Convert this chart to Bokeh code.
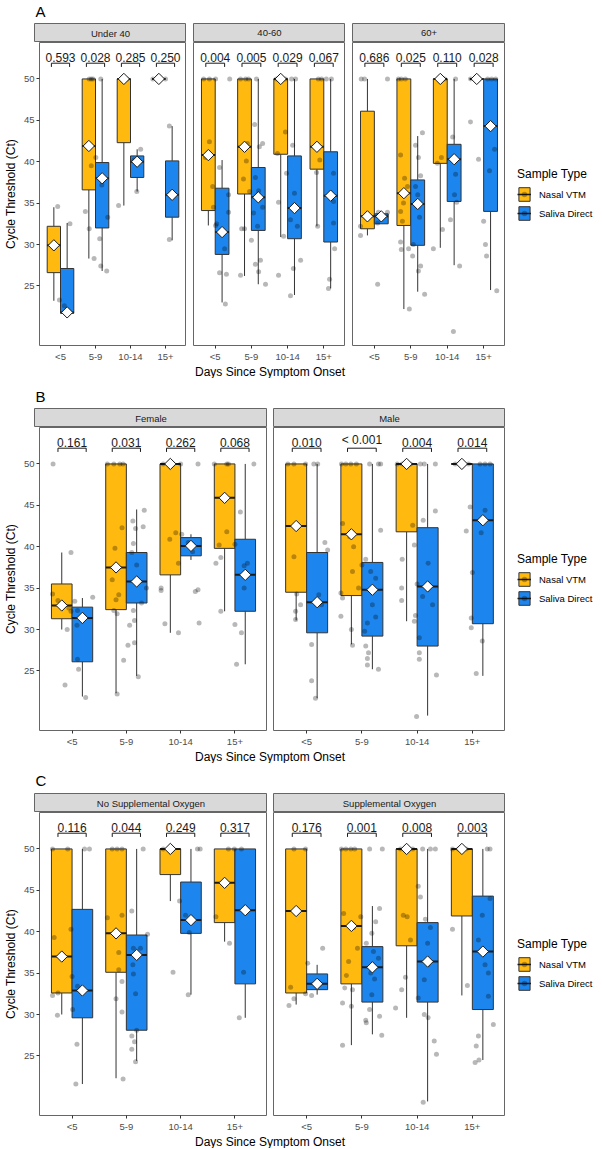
import math
from bokeh.plotting import figure
from bokeh.models import Range1d, FixedTicker, ColumnDataSource, Label, Legend, LegendItem
from bokeh.layouts import column, row
from bokeh.embed import file_html
from bokeh.resources import INLINE
from bokeh.core.properties import value

# ---------------- data ----------------
DAYS = ["<5", "5-9", "10-14", "15+"]
TYPES = ["Nasal VTM", "Saliva Direct"]
Y_TICKS = [25, 30, 35, 40, 45, 50]

A_FACETS = ["Under 40", "40-60", "60+"]
B_FACETS = ["Female", "Male"]
C_FACETS = ["No Supplemental Oxygen", "Supplemental Oxygen"]

A_PVALS = [["0.593", "0.028", "0.285", "0.250"],
           ["0.004", "0.005", "0.029", "0.067"],
           ["0.686", "0.025", "0.110", "0.028"]]
B_PVALS = [["0.161", "0.031", "0.262", "0.068"],
           ["0.010", "< 0.001", "0.004", "0.014"]]
C_PVALS = [["0.116", "0.044", "0.249", "0.317"],
           ["0.176", "0.001", "0.008", "0.003"]]

# (facet, day, type, lower whisker, q1, median, q3, upper whisker, mean)
A_BOXES = [
    (0, 0, "N", 23.2, 26.6, 29.9, 32.2, 34.5, 29.9), (0, 0, "S", 21.7, 21.7, 21.8, 27.1, 32.6, 21.8),
    (0, 1, "N", 28.3, 36.6, 41.9, 50, 50, 41.9), (0, 1, "S", 26.8, 32.0, 38.0, 39.9, 50, 38.0),
    (0, 2, "N", 34.7, 42.3, 50, 50, 50, 50), (0, 2, "S", 36.4, 38.1, 40.0, 40.7, 41.5, 40.0),
    (0, 3, "N", 50, 50, 50, 50, 50, 50), (0, 3, "S", 30.5, 33.3, 36.0, 40.1, 44.3, 36.0),
    (1, 0, "N", 32.3, 34.1, 40.8, 50, 50, 40.8), (1, 0, "S", 23.0, 28.8, 31.5, 36.8, 40.2, 31.5),
    (1, 1, "N", 26.2, 36.1, 41.8, 50, 50, 41.8), (1, 1, "S", 25.2, 31.7, 35.7, 39.3, 50, 35.7),
    (1, 2, "N", 30.9, 40.9, 50, 50, 50, 50), (1, 2, "S", 23.9, 30.7, 34.4, 40.7, 50, 34.4),
    (1, 3, "N", 32.2, 39.1, 41.8, 50, 50, 41.8), (1, 3, "S", 24.7, 30.3, 35.9, 41.2, 50, 35.9),
    (2, 0, "N", 31.1, 31.9, 33.4, 46.1, 50, 33.4), (2, 0, "S", 32.5, 32.5, 33.4, 33.7, 33.9, 33.4),
    (2, 1, "N", 22.2, 32.3, 36.2, 50, 50, 36.2), (2, 1, "S", 24.3, 29.9, 34.9, 37.8, 43.1, 34.9),
    (2, 2, "N", 29.6, 39.8, 50, 50, 50, 50), (2, 2, "S", 27.5, 35.2, 40.3, 42.1, 50, 40.3),
    (2, 3, "N", 50, 50, 50, 50, 50, 50), (2, 3, "S", 24.5, 34.0, 44.3, 50, 50, 44.3),
]
B_BOXES = [
    (0, 0, "N", 30.0, 31.3, 32.9, 35.5, 39.3, 32.9), (0, 0, "S", 21.9, 26.1, 31.4, 32.7, 33.8, 31.4),
    (0, 1, "N", 22.3, 32.4, 37.5, 50, 50, 37.5), (0, 1, "S", 24.4, 33.2, 35.8, 39.3, 44.5, 35.8),
    (0, 2, "N", 29.6, 36.6, 50, 50, 50, 50), (0, 2, "S", 38.4, 38.9, 40.1, 41.1, 41.5, 40.1),
    (0, 3, "N", 32.2, 39.8, 45.9, 50, 50, 45.9), (0, 3, "S", 25.8, 32.2, 36.6, 40.9, 50, 36.6),
    (1, 0, "N", 31.1, 34.5, 42.5, 50, 50, 42.5), (1, 0, "S", 21.7, 29.6, 33.3, 39.3, 50, 33.3),
    (1, 1, "N", 28.2, 34.1, 41.5, 50, 50, 41.5), (1, 1, "S", 25.2, 29.2, 34.8, 38.1, 50, 34.8),
    (1, 2, "N", 31.0, 41.8, 50, 50, 50, 50), (1, 2, "S", 19.6, 28.0, 35.2, 42.3, 50, 35.2),
    (1, 3, "N", 50, 50, 50, 50, 50, 50), (1, 3, "S", 24.4, 30.7, 43.2, 50, 50, 43.2),
]
C_BOXES = [
    (0, 0, "N", 30.0, 32.6, 37.0, 50, 50, 37.0), (0, 0, "S", 21.6, 29.6, 32.9, 42.7, 50, 32.9),
    (0, 1, "N", 22.3, 35.1, 39.8, 50, 50, 39.8), (0, 1, "S", 24.4, 28.1, 37.2, 39.6, 50, 37.2),
    (0, 2, "N", 43.7, 46.9, 50, 50, 50, 50), (0, 2, "S", 32.4, 39.8, 41.4, 46.0, 50, 41.4),
    (0, 3, "N", 38.8, 41.1, 45.9, 50, 50, 45.9), (0, 3, "S", 29.6, 33.7, 42.6, 50, 50, 42.6),
    (1, 0, "N", 31.2, 32.6, 42.5, 50, 50, 42.5), (1, 0, "S", 32.4, 33.0, 33.7, 34.9, 36.0, 33.7),
    (1, 1, "N", 26.3, 33.7, 40.7, 50, 50, 40.7), (1, 1, "S", 27.6, 31.5, 35.7, 38.2, 43.1, 35.7),
    (1, 2, "N", 29.6, 38.3, 50, 50, 50, 50), (1, 2, "S", 19.5, 31.5, 36.4, 41.1, 50, 36.4),
    (1, 3, "N", 32.3, 41.9, 50, 50, 50, 50), (1, 3, "S", 24.5, 30.6, 37.6, 44.3, 50, 37.6),
]

# individual samples: (facet, day, type, Ct, jitter offset from the day's centre)
A_POINTS = [
    (0, 0, "N", 34.6, -0.08), (0, 0, "N", 23.3, -0.03),
    (0, 0, "S", 32.5, 0.27), (0, 0, "S", 21.8, 0.19), (0, 0, "S", 22.6, 0.11),
    (0, 1, "N", 50, -0.18), (0, 1, "N", 50, -0.12), (0, 1, "N", 50, -0.07), (0, 1, "N", 39.5, -0.12),
    (0, 1, "N", 34.0, -0.29), (0, 1, "N", 31.9, -0.18), (0, 1, "N", 28.3, -0.04),
    (0, 1, "S", 50, 0.15), (0, 1, "S", 40.5, 0.01), (0, 1, "S", 37.2, 0.18), (0, 1, "S", 33.3, 0.35),
    (0, 1, "S", 30.7, 0.12), (0, 1, "S", 27.4, 0.15), (0, 1, "S", 26.8, 0.32),
    (0, 2, "N", 50, -0.18), (0, 2, "N", 50, -0.10), (0, 2, "N", 34.7, -0.34),
    (0, 2, "S", 41.5, 0.29), (0, 2, "S", 36.4, 0.18), (0, 2, "S", 40.2, 0.10),
    (0, 3, "N", 50, -0.36), (0, 3, "N", 50, 0.0),
    (0, 3, "S", 44.3, 0.11), (0, 3, "S", 30.6, 0.11),
    (1, 0, "N", 50, -0.32), (1, 0, "N", 50, -0.16), (1, 0, "N", 50, 0.01), (1, 0, "N", 42.4, -0.16),
    (1, 0, "N", 40.5, -0.27), (1, 0, "N", 37.0, -0.07), (1, 0, "N", 34.5, -0.05), (1, 0, "N", 32.3, 0.01),
    (1, 0, "S", 50, 0.40), (1, 0, "S", 39.3, 0.12), (1, 0, "S", 36.0, 0.37), (1, 0, "S", 33.9, 0.37),
    (1, 0, "S", 32.5, 0.04), (1, 0, "S", 29.5, 0.26), (1, 0, "S", 26.6, 0.12), (1, 0, "S", 26.4, 0.31),
    (1, 0, "S", 22.8, 0.28),
    (1, 1, "N", 50, -0.30), (1, 1, "N", 50, -0.16), (1, 1, "N", 50, -0.08), (1, 1, "N", 42.2, -0.11),
    (1, 1, "N", 40.1, -0.14), (1, 1, "N", 37.9, -0.22), (1, 1, "N", 36.4, -0.05), (1, 1, "N", 31.9, -0.27),
    (1, 1, "N", 31.9, -0.19), (1, 1, "N", 30.5, 0.0), (1, 1, "N", 26.3, -0.30),
    (1, 1, "S", 50, 0.14), (1, 1, "S", 44.5, 0.09), (1, 1, "S", 42.2, 0.31), (1, 1, "S", 41.8, 0.22),
    (1, 1, "S", 38.1, 0.11), (1, 1, "S", 36.5, 0.20), (1, 1, "S", 34.5, 0.31), (1, 1, "S", 33.8, 0.06),
    (1, 1, "S", 32.2, 0.17), (1, 1, "S", 28.1, 0.25), (1, 1, "S", 27.6, 0.11), (1, 1, "S", 26.7, 0.20),
    (1, 1, "S", 25.2, 0.39),
    (1, 2, "N", 50, -0.31), (1, 2, "N", 50, -0.20), (1, 2, "N", 50, -0.06), (1, 2, "N", 43.6, -0.06),
    (1, 2, "N", 41.0, -0.28), (1, 2, "N", 35.1, -0.25), (1, 2, "N", 31.0, -0.11), (1, 2, "N", 26.3, -0.25),
    (1, 2, "S", 50, 0.11), (1, 2, "S", 50, 0.22), (1, 2, "S", 42.0, 0.14), (1, 2, "S", 38.6, -0.03),
    (1, 2, "S", 36.2, 0.19), (1, 2, "S", 33.0, 0.08), (1, 2, "S", 32.2, 0.27), (1, 2, "S", 28.1, 0.36),
    (1, 2, "S", 27.1, 0.16), (1, 2, "S", 23.8, 0.08),
    (1, 3, "N", 50, -0.15), (1, 3, "N", 50, -0.06), (1, 3, "N", 38.7, -0.20), (1, 3, "N", 40.2, -0.11),
    (1, 3, "N", 32.2, -0.17),
    (1, 3, "S", 50, 0.21), (1, 3, "S", 50, 0.07), (1, 3, "S", 38.6, 0.27), (1, 3, "S", 36.0, 0.16),
    (1, 3, "S", 35.2, 0.27), (1, 3, "S", 32.6, 0.27), (1, 3, "S", 29.5, 0.30), (1, 3, "S", 25.8, 0.16),
    (1, 3, "S", 24.7, 0.13),
    (2, 0, "N", 50, -0.36), (2, 0, "N", 50, -0.27), (2, 0, "N", 32.2, -0.38), (2, 0, "N", 31.1, -0.38),
    (2, 0, "S", 50, 0.36), (2, 0, "S", 33.9, 0.11), (2, 0, "S", 33.9, 0.36), (2, 0, "S", 32.6, 0.09),
    (2, 0, "S", 25.2, 0.09),
    (2, 1, "N", 50, -0.34), (2, 1, "N", 50, -0.26), (2, 1, "N", 50, -0.15), (2, 1, "N", 40.8, -0.28),
    (2, 1, "N", 38.0, -0.17), (2, 1, "N", 37.0, -0.09), (2, 1, "N", 35.0, -0.20), (2, 1, "N", 34.0, -0.28),
    (2, 1, "N", 32.8, -0.23), (2, 1, "N", 30.3, -0.28), (2, 1, "N", 29.4, -0.26), (2, 1, "N", 22.2, -0.04),
    (2, 1, "S", 43.5, 0.32), (2, 1, "S", 42.0, 0.13), (2, 1, "S", 40.5, 0.21), (2, 1, "S", 38.3, 0.27),
    (2, 1, "S", 37.0, 0.13), (2, 1, "S", 36.0, 0.19), (2, 1, "S", 33.3, 0.24), (2, 1, "S", 30.0, 0.07),
    (2, 1, "S", 29.5, -0.06), (2, 1, "S", 28.6, 0.05), (2, 1, "S", 27.4, 0.27), (2, 1, "S", 26.8, 0.21),
    (2, 1, "S", 24.0, 0.38),
    (2, 2, "N", 50, -0.19), (2, 2, "N", 50, -0.07), (2, 2, "N", 40.5, -0.16), (2, 2, "N", 39.8, -0.27),
    (2, 2, "N", 31.8, -0.13), (2, 2, "N", 29.5, -0.38),
    (2, 2, "S", 50, 0.23), (2, 2, "S", 43.0, 0.15), (2, 2, "S", 40.2, 0.15), (2, 2, "S", 38.5, 0.23),
    (2, 2, "S", 36.0, 0.20), (2, 2, "S", 35.1, 0.26), (2, 2, "S", 33.0, 0.09), (2, 2, "S", 27.4, 0.34),
    (2, 2, "S", 19.5, 0.17),
    (2, 3, "N", 50, -0.36), (2, 3, "N", 50, -0.25), (2, 3, "N", 44.8, -0.36), (2, 3, "N", 40.3, -0.14),
    (2, 3, "S", 50, 0.11), (2, 3, "S", 50, 0.22), (2, 3, "S", 50, 0.33), (2, 3, "S", 41.5, 0.30),
    (2, 3, "S", 38.9, 0.16), (2, 3, "S", 32.8, 0.0), (2, 3, "S", 28.6, 0.08), (2, 3, "S", 30.0, 0.05),
    (2, 3, "S", 24.4, 0.36),
]
B_POINTS = [
    (0, 0, "N", 50, -0.35), (0, 0, "N", 39.3, -0.02), (0, 0, "N", 34.3, -0.36), (0, 0, "N", 33.5, -0.26),
    (0, 0, "N", 32.6, -0.06), (0, 0, "N", 32.2, -0.02), (0, 0, "N", 30.0, -0.09), (0, 0, "N", 23.3, -0.13),
    (0, 0, "S", 33.9, 0.38), (0, 0, "S", 33.4, 0.05), (0, 0, "S", 32.3, 0.10), (0, 0, "S", 30.5, 0.09),
    (0, 0, "S", 26.4, 0.10), (0, 0, "S", 25.2, 0.12), (0, 0, "S", 21.8, 0.25),
    (0, 1, "N", 50, -0.35), (0, 1, "N", 50, -0.23), (0, 1, "N", 50, -0.12), (0, 1, "N", 50, -0.06),
    (0, 1, "N", 42.3, -0.08), (0, 1, "N", 39.8, -0.21), (0, 1, "N", 36.0, -0.26), (0, 1, "N", 34.2, -0.14),
    (0, 1, "N", 33.6, -0.19), (0, 1, "N", 32.3, -0.23), (0, 1, "N", 31.9, -0.17), (0, 1, "N", 22.2, -0.17),
    (0, 1, "S", 44.4, 0.33), (0, 1, "S", 43.1, 0.12), (0, 1, "S", 42.4, 0.31), (0, 1, "S", 42.2, 0.17),
    (0, 1, "S", 40.4, 0.13), (0, 1, "S", 39.3, 0.10), (0, 1, "S", 37.8, 0.19), (0, 1, "S", 35.0, 0.37),
    (0, 1, "S", 33.2, 0.28), (0, 1, "S", 32.3, 0.13), (0, 1, "S", 31.1, 0.15), (0, 1, "S", 30.5, 0.06),
    (0, 1, "S", 28.4, 0.15), (0, 1, "S", 28.1, 0.03), (0, 1, "S", 26.3, -0.05), (0, 1, "S", 24.3, 0.22),
    (0, 2, "N", 50, -0.32), (0, 2, "N", 50, -0.14), (0, 2, "N", 50, 0.0), (0, 2, "N", 41.7, -0.09),
    (0, 2, "N", 40.9, -0.20), (0, 2, "N", 38.0, -0.04), (0, 2, "N", 35.0, -0.36), (0, 2, "N", 34.7, -0.36),
    (0, 2, "N", 30.7, -0.29), (0, 2, "N", 29.6, -0.04),
    (0, 2, "S", 50, 0.32), (0, 2, "S", 41.5, 0.02), (0, 2, "S", 40.5, 0.14), (0, 2, "S", 39.4, 0.22),
    (0, 2, "S", 34.6, 0.27), (0, 2, "S", 34.8, 0.32), (0, 2, "S", 30.8, 0.34),
    (0, 3, "N", 50, -0.38), (0, 3, "N", 50, -0.15), (0, 3, "N", 50, -0.12), (0, 3, "N", 41.8, -0.15),
    (0, 3, "N", 40.2, -0.29), (0, 3, "N", 38.7, -0.26), (0, 3, "N", 38.0, -0.35), (0, 3, "N", 32.2, -0.26),
    (0, 3, "S", 50, 0.35), (0, 3, "S", 44.2, 0.10), (0, 3, "S", 40.3, 0.0), (0, 3, "S", 38.0, 0.23),
    (0, 3, "S", 37.7, 0.17), (0, 3, "S", 35.0, 0.17), (0, 3, "S", 30.6, 0.0), (0, 3, "S", 29.6, 0.12),
    (0, 3, "S", 25.8, 0.03),
    (1, 0, "N", 50, -0.34), (1, 0, "N", 50, -0.23), (1, 0, "N", 50, -0.02), (1, 0, "N", 38.8, -0.23),
    (1, 0, "N", 34.3, -0.18), (1, 0, "N", 33.0, -0.11), (1, 0, "N", 32.2, -0.20), (1, 0, "N", 31.2, -0.20),
    (1, 0, "S", 50, 0.13), (1, 0, "S", 50, 0.20), (1, 0, "S", 40.5, 0.33), (1, 0, "S", 39.6, 0.38),
    (1, 0, "S", 34.2, 0.22), (1, 0, "S", 33.0, 0.27), (1, 0, "S", 28.2, 0.09), (1, 0, "S", 23.8, 0.09),
    (1, 0, "S", 21.7, 0.16),
    (1, 1, "N", 50, -0.37), (1, 1, "N", 50, -0.29), (1, 1, "N", 50, -0.20), (1, 1, "N", 50, -0.10),
    (1, 1, "N", 42.8, -0.35), (1, 1, "N", 41.2, -0.22), (1, 1, "N", 40.0, -0.15), (1, 1, "N", 37.0, -0.17),
    (1, 1, "N", 35.0, -0.06), (1, 1, "N", 34.4, -0.38), (1, 1, "N", 33.8, -0.35), (1, 1, "N", 31.6, -0.38),
    (1, 1, "N", 30.0, -0.19), (1, 1, "N", 28.1, -0.17),
    (1, 1, "S", 50, 0.14), (1, 1, "S", 50, 0.30), (1, 1, "S", 50, 0.34), (1, 1, "S", 42.0, 0.34),
    (1, 1, "S", 38.5, 0.07), (1, 1, "S", 37.8, 0.0), (1, 1, "S", 37.0, 0.16), (1, 1, "S", 36.2, 0.25),
    (1, 1, "S", 33.0, 0.19), (1, 1, "S", 31.5, 0.25), (1, 1, "S", 30.8, 0.10), (1, 1, "S", 29.8, 0.05),
    (1, 1, "S", 28.0, 0.07), (1, 1, "S", 27.2, 0.12), (1, 1, "S", 26.5, 0.10), (1, 1, "S", 25.7, 0.10),
    (1, 1, "S", 25.2, 0.30),
    (1, 2, "N", 50, -0.36), (1, 2, "N", 50, -0.27), (1, 2, "N", 50, -0.12), (1, 2, "N", 42.6, -0.08),
    (1, 2, "N", 38.5, -0.27), (1, 2, "N", 35.0, -0.28), (1, 2, "N", 33.5, -0.28), (1, 2, "N", 31.0, -0.05),
    (1, 2, "S", 50, 0.06), (1, 2, "S", 50, 0.13), (1, 2, "S", 50, 0.33), (1, 2, "S", 44.3, 0.33),
    (1, 2, "S", 43.2, 0.11), (1, 2, "S", 40.2, -0.05), (1, 2, "S", 38.0, 0.20), (1, 2, "S", 35.5, 0.0),
    (1, 2, "S", 34.0, 0.10), (1, 2, "S", 33.0, 0.28), (1, 2, "S", 31.7, -0.03), (1, 2, "S", 29.0, 0.04),
    (1, 2, "S", 27.2, 0.04), (1, 2, "S", 26.4, 0.04), (1, 2, "S", 24.5, 0.35), (1, 2, "S", 19.5, -0.01),
    (1, 3, "N", 50, -0.31), (1, 3, "N", 50, -0.22), (1, 3, "N", 50, -0.07), (1, 3, "N", 44.8, -0.04),
    (1, 3, "N", 41.9, -0.11),
    (1, 3, "S", 50, 0.14), (1, 3, "S", 50, 0.23), (1, 3, "S", 50, 0.32), (1, 3, "S", 44.4, 0.23),
    (1, 3, "S", 41.7, 0.16), (1, 3, "S", 36.9, 0.0), (1, 3, "S", 31.4, -0.02), (1, 3, "S", 30.2, -0.02),
    (1, 3, "S", 28.6, 0.18), (1, 3, "S", 24.7, 0.07),
]
C_POINTS = [
    (0, 0, "N", 50, -0.36), (0, 0, "N", 50, -0.08), (0, 0, "N", 39.3, -0.33), (0, 0, "N", 34.6, 0.0),
    (0, 0, "N", 32.6, -0.26), (0, 0, "N", 32.3, -0.36), (0, 0, "N", 29.9, -0.27),
    (0, 0, "S", 50, 0.23), (0, 0, "S", 50, 0.32), (0, 0, "S", 40.3, -0.02), (0, 0, "S", 33.4, 0.10),
    (0, 0, "S", 30.6, 0.01), (0, 0, "S", 26.4, 0.09), (0, 0, "S", 21.6, 0.07),
    (0, 1, "N", 50, -0.26), (0, 1, "N", 50, -0.17), (0, 1, "N", 50, -0.08), (0, 1, "N", 41.7, -0.35),
    (0, 1, "N", 42.0, -0.08), (0, 1, "N", 37.5, -0.14), (0, 1, "N", 35.4, -0.14), (0, 1, "N", 34.0, -0.08),
    (0, 1, "N", 31.9, -0.19), (0, 1, "N", 30.3, -0.08), (0, 1, "N", 22.2, -0.06),
    (0, 1, "S", 50, 0.31), (0, 1, "S", 42.5, 0.10), (0, 1, "S", 39.7, 0.39), (0, 1, "S", 38.0, 0.13),
    (0, 1, "S", 38.0, 0.26), (0, 1, "S", 36.0, 0.12), (0, 1, "S", 34.9, 0.13), (0, 1, "S", 32.5, 0.17),
    (0, 1, "S", 28.1, 0.19), (0, 1, "S", 27.4, 0.10), (0, 1, "S", 26.7, 0.15), (0, 1, "S", 25.8, 0.10),
    (0, 1, "S", 24.3, 0.17),
    (0, 2, "N", 50, -0.32), (0, 2, "N", 50, -0.22), (0, 2, "N", 50, -0.14), (0, 2, "N", 43.7, -0.02),
    (0, 2, "N", 35.1, -0.14),
    (0, 2, "S", 50, 0.31), (0, 2, "S", 50, 0.36), (0, 2, "S", 42.0, 0.09), (0, 2, "S", 39.9, 0.16),
    (0, 2, "S", 32.4, 0.14),
    (0, 3, "N", 50, -0.12), (0, 3, "N", 50, -0.01), (0, 3, "N", 41.8, -0.35), (0, 3, "N", 38.6, -0.10),
    (0, 3, "S", 50, 0.12), (0, 3, "S", 35.1, 0.16), (0, 3, "S", 29.6, 0.08),
    (1, 0, "N", 50, -0.23), (1, 0, "N", 50, -0.02), (1, 0, "N", 33.3, -0.29), (1, 0, "N", 31.9, -0.23),
    (1, 0, "N", 31.1, -0.32),
    (1, 0, "S", 38.0, 0.29), (1, 0, "S", 36.2, 0.02), (1, 0, "S", 32.5, -0.02), (1, 0, "S", 32.3, 0.09),
    (1, 1, "N", 50, -0.37), (1, 1, "N", 50, -0.29), (1, 1, "N", 50, -0.20), (1, 1, "N", 50, -0.13),
    (1, 1, "N", 42.2, -0.33), (1, 1, "N", 41.8, -0.02), (1, 1, "N", 40.5, -0.15), (1, 1, "N", 38.0, -0.08),
    (1, 1, "N", 36.4, -0.24), (1, 1, "N", 34.7, -0.28), (1, 1, "N", 33.2, -0.31), (1, 1, "N", 33.0, -0.17),
    (1, 1, "N", 31.4, -0.35), (1, 1, "N", 31.0, -0.19), (1, 1, "N", 26.3, -0.35),
    (1, 1, "S", 50, 0.14), (1, 1, "S", 50, 0.37), (1, 1, "S", 42.8, 0.32), (1, 1, "S", 41.2, 0.25),
    (1, 1, "S", 39.8, 0.18), (1, 1, "S", 38.6, 0.08), (1, 1, "S", 37.6, 0.21), (1, 1, "S", 36.8, 0.30),
    (1, 1, "S", 35.0, 0.16), (1, 1, "S", 34.3, 0.23), (1, 1, "S", 32.4, 0.18), (1, 1, "S", 30.6, 0.14),
    (1, 1, "S", 29.8, 0.32), (1, 1, "S", 29.3, 0.07), (1, 1, "S", 29.0, 0.08), (1, 1, "S", 27.5, 0.36),
    (1, 2, "N", 50, -0.30), (1, 2, "N", 50, -0.21), (1, 2, "N", 50, -0.08), (1, 2, "N", 42.0, -0.25),
    (1, 2, "N", 41.8, -0.18), (1, 2, "N", 39.0, -0.12), (1, 2, "N", 34.5, -0.21), (1, 2, "N", 33.0, -0.28),
    (1, 2, "N", 30.8, -0.39),
    (1, 2, "S", 50, 0.10), (1, 2, "S", 50, 0.24), (1, 2, "S", 50, 0.33), (1, 2, "S", 45.5, 0.02),
    (1, 2, "S", 44.2, 0.06), (1, 2, "S", 41.5, 0.15), (1, 2, "S", 40.5, 0.24), (1, 2, "S", 38.6, 0.19),
    (1, 2, "S", 36.0, 0.20), (1, 2, "S", 34.2, 0.13), (1, 2, "S", 32.0, 0.02), (1, 2, "S", 30.0, 0.13),
    (1, 2, "S", 29.6, 0.20), (1, 2, "S", 26.8, 0.31), (1, 2, "S", 25.2, 0.35), (1, 2, "S", 19.4, 0.11),
    (1, 3, "N", 50, -0.36), (1, 3, "N", 50, -0.25), (1, 3, "N", 50, -0.11), (1, 3, "N", 40.3, -0.36),
    (1, 3, "N", 33.5, -0.09),
    (1, 3, "S", 50, 0.27), (1, 3, "S", 50, 0.32), (1, 3, "S", 44.0, 0.32), (1, 3, "S", 42.0, 0.18),
    (1, 3, "S", 39.0, 0.11), (1, 3, "S", 36.0, 0.23), (1, 3, "S", 35.0, 0.29), (1, 3, "S", 32.2, 0.29),
    (1, 3, "S", 28.8, 0.38), (1, 3, "S", 27.4, 0.11), (1, 3, "S", 26.2, 0.07), (1, 3, "S", 24.5, 0.12),
    (1, 3, "S", 24.2, 0.05),
]

# ---------------- style ----------------
FONT = "Liberation Sans"
FILL = {"N": "#FFB90F", "S": "#1C86EE"}
CODES = ["N", "S"]
LINE = "#333333"
BORDER = "#666666"
DODGE = 0.19
BOX_W = 0.38
BR_HALF = 0.26
BR_Y = 51.9
BR_TICK = 0.45
Y_LO, Y_HI = 17.8, 54.4
FRAME_H = 305
BOTTOM = 17
STRIP_H = 19
LEFT_AXIS = 34
LEGEND_W = 97
TOTAL_W = 602


def xpos(day, t):
    return day + 1 + (-DODGE if t == "N" else DODGE)


def box_source(boxes, fi, code):
    bx = [b for b in boxes if (fi is None or b[0] == fi) and b[2] == code]
    xs = [xpos(b[1], b[2]) for b in bx]
    return ColumnDataSource(dict(
        x=xs, xl=[x - BOX_W / 2 for x in xs], xr=[x + BOX_W / 2 for x in xs],
        lo=[b[3] for b in bx], q1=[b[4] for b in bx], med=[b[5] for b in bx],
        q3=[b[6] for b in bx], hi=[b[7] for b in bx], mean=[b[8] for b in bx]))


def point_source(points, fi):
    pts = [q for q in points if fi is None or q[0] == fi]
    return ColumnDataSource(dict(x=[q[1] + 1 + q[4] for q in pts], y=[q[3] for q in pts]))


def style_axes(p):
    for ax in p.axis:
        ax.axis_line_color = None
        ax.major_tick_line_color = LINE
        ax.major_tick_in = 0
        ax.major_tick_out = 3
        ax.minor_tick_line_color = None
        ax.major_label_text_font = FONT
        ax.major_label_text_font_size = "9.5px"
        ax.major_label_text_color = "#4D4D4D"
        ax.major_label_standoff = 2
        ax.axis_label_text_font = FONT
        ax.axis_label_text_font_size = "12px"
        ax.axis_label_text_font_style = "normal"
        ax.axis_label_text_color = "#000000"
        ax.axis_label_standoff = 3


def panel(fi, boxes, points, pvals, frame_w, left, first):
    kw = dict(width=left + frame_w, height=FRAME_H + BOTTOM,
              x_range=Range1d(0.4, 4.6), y_range=Range1d(Y_LO, Y_HI),
              output_backend="svg", toolbar_location=None,
              min_border_left=left, min_border_right=0, min_border_top=0,
              min_border_bottom=BOTTOM)
    if not first:
        kw["y_axis_location"] = None
    p = figure(**kw)
    p.grid.visible = False
    p.outline_line_color = BORDER
    p.outline_line_width = 1
    p.background_fill_color = "white"
    p.border_fill_color = "white"

    srcs = []
    for code in CODES:
        src = box_source(boxes, fi, code)
        p.segment(x0="x", y0="q3", x1="x", y1="hi", source=src, line_color=LINE, line_width=1)
        p.segment(x0="x", y0="q1", x1="x", y1="lo", source=src, line_color=LINE, line_width=1)
        p.vbar(x="x", width=BOX_W, bottom="q1", top="q3", source=src,
               fill_color=FILL[code], line_color=LINE, line_width=1)
        srcs.append(src)
    for src in srcs:
        p.segment(x0="xl", y0="med", x1="xr", y1="med", source=src,
                  line_color="#1A1A1A", line_width=2)

    p.scatter(x="x", y="y", source=point_source(points, fi), size=5, fill_color="black",
              fill_alpha=0.28, line_color=None)
    for src in srcs:
        p.scatter(x="x", y="mean", source=src, marker="square", angle=math.pi / 4,
                  size=8, fill_color="white", line_color="#1A1A1A", line_width=1)

    centers = [i + 1 for i in range(len(DAYS))]
    bsrc = ColumnDataSource(dict(
        x=centers, xl=[c - BR_HALF for c in centers], xr=[c + BR_HALF for c in centers],
        y=[BR_Y] * 4, yt=[BR_Y - BR_TICK] * 4, ylab=[BR_Y + 0.15] * 4, text=pvals[fi]))
    p.segment(x0="xl", y0="y", x1="xr", y1="y", source=bsrc, line_color="#1A1A1A", line_width=1)
    p.segment(x0="xl", y0="y", x1="xl", y1="yt", source=bsrc, line_color="#1A1A1A", line_width=1)
    p.segment(x0="xr", y0="y", x1="xr", y1="yt", source=bsrc, line_color="#1A1A1A", line_width=1)
    p.text(x="x", y="ylab", text="text", source=bsrc, text_align="center",
           text_baseline="bottom", text_font=value(FONT), text_font_size="12px",
           text_color="#1A1A1A")

    p.xaxis.ticker = FixedTicker(ticks=centers)
    p.xaxis.major_label_overrides = {c: d for c, d in zip(centers, DAYS)}
    if first:
        p.yaxis.ticker = FixedTicker(ticks=Y_TICKS)
        p.yaxis.axis_label = "Cycle Threshold (Ct)"
    style_axes(p)
    return p


def legend_fig(boxes, points):
    p = figure(width=LEGEND_W, height=FRAME_H + BOTTOM,
               x_range=Range1d(0.4, 4.6), y_range=Range1d(Y_LO, Y_HI),
               x_axis_location=None, y_axis_location=None, toolbar_location=None,
               output_backend="svg", min_border_left=0, min_border_right=0,
               min_border_top=0, min_border_bottom=BOTTOM)
    p.grid.visible = False
    p.outline_line_color = None
    psrc = point_source(points, None)
    items = []
    for t, code in zip(TYPES, CODES):
        src = box_source(boxes, None, code)
        r1 = p.vbar(x="x", width=BOX_W, bottom="q1", top="q3", source=src,
                    fill_color=FILL[code], line_color=LINE, line_width=1, visible=False)
        r2 = p.segment(x0="xl", y0="med", x1="xr", y1="med", source=src,
                       line_color="#1A1A1A", line_width=1.5, visible=False)
        r3 = p.scatter(x="x", y="y", source=psrc, size=5, fill_color="black",
                       fill_alpha=0.28, line_color=None, visible=False)
        items.append(LegendItem(label=t, renderers=[r1, r2, r3]))
    leg = Legend(items=items, location="center_left", title="Sample Type",
                 title_text_font=FONT, title_text_font_size="12px",
                 title_text_font_style="normal", title_text_color="#000000",
                 title_standoff=5,
                 label_text_font=FONT, label_text_font_size="9.5px",
                 label_text_color="#000000",
                 glyph_width=14, glyph_height=17, label_standoff=8, spacing=2,
                 padding=6, margin=12, border_line_color=None, background_fill_alpha=0,
                 inactive_fill_alpha=0, click_policy="none")
    p.add_layout(leg)
    return p


def strip(label, frame_w, left):
    p = figure(width=left + frame_w, height=STRIP_H, x_range=Range1d(0, 1), y_range=Range1d(0, 1),
               x_axis_location=None, y_axis_location=None, toolbar_location=None,
               output_backend="svg", min_border_left=left, min_border_right=0,
               min_border_top=0, min_border_bottom=0)
    p.grid.visible = False
    p.background_fill_color = "#D9D9D9"
    p.border_fill_color = "white"
    p.outline_line_color = BORDER
    p.add_layout(Label(x=0.5, y=0.5, text=label, text_align="center", text_baseline="middle",
                       text_font=FONT, text_font_size="9.5px", text_color="#1A1A1A"))
    return p


def text_fig(width, height, text, x, y, size, align, baseline):
    p = figure(width=width, height=height, x_range=Range1d(0, width), y_range=Range1d(0, height),
               x_axis_location=None, y_axis_location=None, toolbar_location=None,
               output_backend="svg", min_border_left=0, min_border_right=0,
               min_border_top=0, min_border_bottom=0)
    p.grid.visible = False
    p.outline_line_color = None
    p.add_layout(Label(x=x, y=y, text=text, text_align=align, text_baseline=baseline,
                       text_font=FONT, text_font_size=size, text_color="#000000"))
    return p


def block(tag, header_h, tag_y, facets, boxes, points, pvals, frame_ws, gaps):
    header = text_fig(TOTAL_W, header_h, tag, 35, tag_y, "15px", "left", "top")
    strips, panels = [], []
    for i, name in enumerate(facets):
        left = LEFT_AXIS if i == 0 else gaps[i - 1]
        strips.append(strip(name, frame_ws[i], left))
        panels.append(panel(i, boxes, points, pvals, frame_ws[i], left, i == 0))
    panels.append(legend_fig(boxes, points))
    used = LEFT_AXIS + sum(gaps) + sum(frame_ws)
    center = (LEFT_AXIS + used) / 2
    xtitle = text_fig(TOTAL_W, 14, "Days Since Symptom Onset", center, 14, "12px", "center", "top")
    return column(header, row(*strips), row(*panels), xtitle)


blk_a = block("A", 23, 21, A_FACETS, A_BOXES, A_POINTS, A_PVALS, [152, 152, 153], [7, 7])
blk_b = block("B", 30, 21, B_FACETS, B_BOXES, B_POINTS, B_PVALS, [233, 232], [6])
blk_c = block("C", 30, 22, C_FACETS, C_BOXES, C_POINTS, C_PVALS, [233, 232], [6])

page = column(blk_a, blk_b, blk_c)
open("out.html", "w").write(file_html(page, INLINE))
